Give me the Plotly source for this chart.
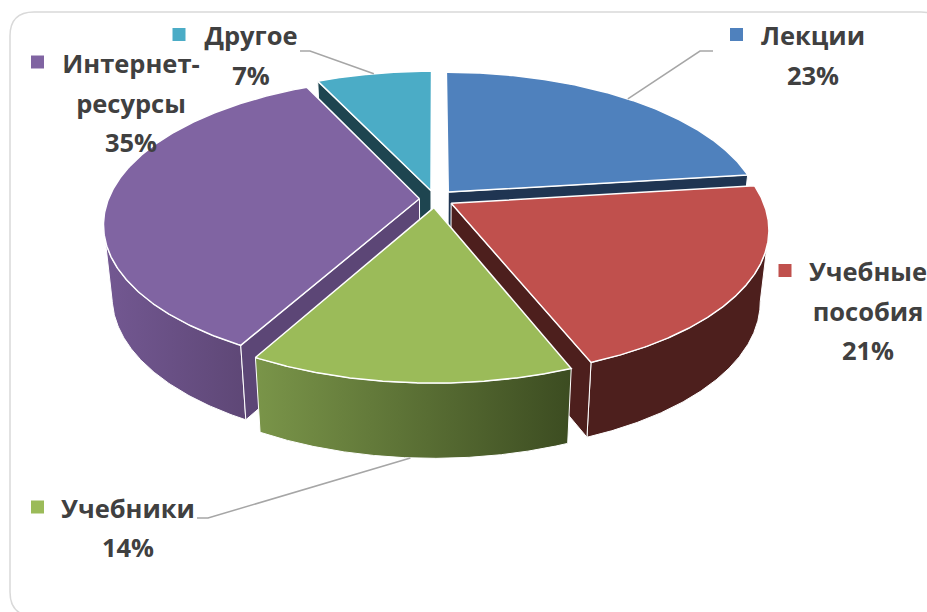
import numpy as np
import plotly.graph_objects as go

# --- data ---
categories = ["Лекции", "Учебные пособия", "Учебники", "Интернет-ресурсы", "Другое"]
shares = [23, 21, 14, 35, 7]
label_lines = [["Лекции"], ["Учебные", "пособия"], ["Учебники"], ["Интернет-", "ресурсы"], ["Другое"]]

# --- styles ---
top_colors = ["#4F81BD", "#C0504D", "#9BBB59", "#8064A2", "#4BACC6"]
side_colors = ["#1F3552", "#4D1F1D", "#4A5C2A", "#5C4676", "#1E4550"]
outer_grad = {1: ("#4D1F1D", "#4D1F1D"), 2: ("#7A9549", "#3C4C21"), 3: ("#735892", "#5E4776")}
silhouette = {1: "right", 2: None, 3: "left"}
draw_order = [4, 0, 3, 1, 2]
explode = [0.065, 0.06, 0.06, 0.05, 0.06]
visible_wall = {0: [-1], 1: [-1], 2: [], 3: [0], 4: [0]}

# --- projection of the tilted pie onto the page (pixel space) ---
CX, CY, A, B, K = 435.0, 199.0, 311.0, 142.4, 0.17
SHRINK = 0.974
TEXT = "#404040"
FONT = "Open Sans"
FS = 25.5


def project(X, Y, lower=False):
    X, Y = np.asarray(X, float), np.asarray(Y, float)
    d = 1 - K * Y
    px = CX + A * X / d
    py = CY + B * Y / d
    if lower:
        px = CX + SHRINK * (px - CX)
        py = py + 71 + 4 * Y
    return px, py


def disk(theta, off, r=1.0):
    return off[0] + r * np.sin(theta), off[1] - r * np.cos(theta)


total = sum(shares)
edges = np.concatenate([[0], np.cumsum(shares)]) / total * 2 * np.pi
fig = go.Figure()


def poly(x, y, color=None, grad=None, lw=1.5):
    kw = dict(fillgradient=dict(type="horizontal", colorscale=[[0, grad[0]], [1, grad[1]]])) if grad else dict(fillcolor=color)
    fig.add_trace(go.Scatter(x=list(x) + [x[0]], y=list(y) + [y[0]], mode="lines", fill="toself",
                             line=dict(color="white", width=lw), hoverinfo="skip", showlegend=False, **kw))


anchors = {}
for i in draw_order:
    a0, a1 = edges[i], edges[i + 1]
    mid = (a0 + a1) / 2
    off = (explode[i] * np.sin(mid), -explode[i] * np.cos(mid))
    th = np.linspace(a0, a1, 240)
    rx, ry = disk(th, off)
    tx, ty = project(rx, ry)
    bx, by = project(rx, ry, True)
    ax, ay = project(off[0], off[1])
    lx, ly = project(off[0], off[1], True)
    # outer wall, from the slice edge to the silhouette of the drum
    if i in outer_grad:
        s = silhouette[i]
        keep = slice(None)
        if s == "right":
            keep = slice(int(np.argmax(tx)), None)
        elif s == "left":
            keep = slice(0, int(np.argmin(tx)) + 1)
        poly(np.concatenate([tx[keep], bx[keep][::-1]]), np.concatenate([ty[keep], by[keep][::-1]]),
             grad=outer_grad[i], lw=1)
    # radial walls that face the viewer
    for k in visible_wall[i]:
        poly([float(ax), tx[k], bx[k], float(lx)], [float(ay), ty[k], by[k], float(ly)], color=side_colors[i], lw=1)
    # top face
    poly(np.concatenate([[ax], tx]), np.concatenate([[ay], ty]), color=top_colors[i], lw=1.5)
    mx, my = disk(np.array([mid]), off)
    anchors[i] = (project(mx, my), project(mx, my, True))

# --- leader lines: elbow position on the page, tip on the slice rim ---
leader = "#A6A6A6"
leaders = [(0, (713, 51), (700, 51), False), (4, (300, 51), (310, 51), False), (2, (197, 518), (208, 518), True)]
for i, p0, p1, low in leaders:
    tip = anchors[i][1 if low else 0]
    fig.add_trace(go.Scatter(x=[p0[0], p1[0], float(tip[0][0])], y=[p0[1], p1[1], float(tip[1][0])], mode="lines",
                             line=dict(color=leader, width=1.5), hoverinfo="skip", showlegend=False))

# --- labels ---
label_pos = {0: (813, [39, 79]), 1: (868, [275, 315, 354]), 2: (128, [512, 551]),
             3: (131, [67, 107, 146]), 4: (251, [39, 79])}
key_pos = {0: (736.5, 34.5), 1: (785, 270.5), 2: (37.5, 507), 3: (37.5, 62), 4: (179, 34.5)}
for i in range(len(categories)):
    lines = label_lines[i] + [f"{shares[i]}%"]
    lx, ys = label_pos[i]
    fig.add_trace(go.Scatter(x=[lx] * len(lines), y=ys, text=lines, mode="text", textposition="middle center",
                             textfont=dict(family=FONT, size=FS, color=TEXT, weight="bold"),
                             cliponaxis=False, hoverinfo="skip", showlegend=False))
    fig.add_trace(go.Scatter(x=[key_pos[i][0]], y=[key_pos[i][1]], mode="markers",
                             marker=dict(symbol="square", size=13, color=top_colors[i]),
                             hoverinfo="skip", showlegend=False))

border = "M 34 12 L 921 12 Q 945 12 945 36 L 945 592 Q 945 616 921 616 L 34 616 Q 10 616 10 592 L 10 36 Q 10 12 34 12 Z"
fig.update_layout(
    width=927, height=612, margin=dict(l=0, r=0, t=0, b=0), paper_bgcolor="white", plot_bgcolor="white",
    xaxis=dict(range=[0, 927], visible=False, fixedrange=True),
    yaxis=dict(range=[612, 0], visible=False, fixedrange=True),
    shapes=[dict(type="path", path=border, line=dict(color="#D9D9D9", width=1.5), layer="below")],
)
fig.write_html("out.html", config=dict(displayModeBar=False),
               post_script="document.body.style.margin='0';document.body.style.overflow='hidden';")
